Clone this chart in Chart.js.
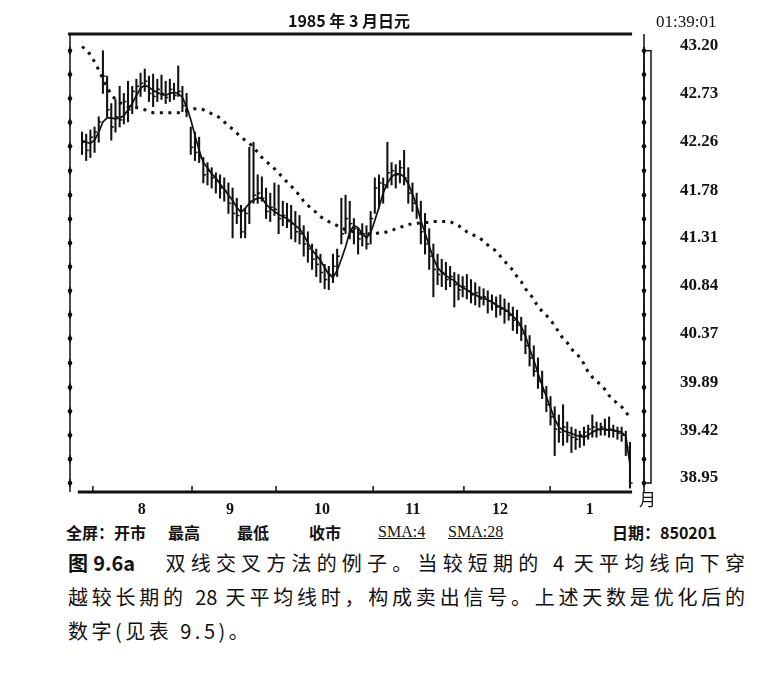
<!DOCTYPE html>
<html>
<head>
<meta charset="utf-8">
<script src="https://cdn.jsdelivr.net/npm/chart.js@4.4.1/dist/chart.umd.min.js"></script>
<style>
  body { margin: 0; background: #fff; width: 769px; height: 673px; position: relative; overflow: hidden;
         font-family: "Noto Sans CJK SC", sans-serif; color: #111; }
  #wrap { position: absolute; left: 0; top: 0; width: 769px; height: 520px; }
  .abs { position: absolute; white-space: nowrap; }
  #title { left: 0; width: 698px; top: 9px; text-align: center; font-weight: bold; font-size: 16px; line-height: 22px; }
  #clock { left: 656px; top: 12px; font-family: "Liberation Serif", serif; font-size: 17px; line-height: 20px; }
  #yue { left: 639px; top: 489px; font-size: 17px; line-height: 20px; }
  .leg { top: 522px; font-size: 16px; line-height: 20px; font-weight: bold; }
  .sma { font-family: "Liberation Serif", serif; font-weight: normal; text-decoration: underline; }
  .cap { left: 68px; width: 677px; font-size: 20px; line-height: 24px; text-align: justify; text-align-last: justify; }
</style>
</head>
<body>
<div id="wrap"><canvas id="yenChart"></canvas></div>
<div class="abs" id="title">1985 年 3 月日元</div>
<div class="abs" id="clock">01:39:01</div>
<div class="abs" id="yue">月</div>

<div class="abs leg" style="left:66px">全屏：开市</div>
<div class="abs leg" style="left:168px">最高</div>
<div class="abs leg" style="left:237px">最低</div>
<div class="abs leg" style="left:309px">收市</div>
<div class="abs leg sma" style="left:378px">SMA:4</div>
<div class="abs leg sma" style="left:448px">SMA:28</div>
<div class="abs leg" style="left:612px">日期：850201</div>

<div class="abs cap" style="top:551px"><b>图9.6a</b>　双线交叉方法的例子。当较短期的 4 天平均线向下穿</div>
<div class="abs cap" style="top:585px">越较长期的 28 天平均线时，构成卖出信号。上述天数是优化后的</div>
<div class="abs" style="left:68px; top:619px; font-size:20px; line-height:24px; letter-spacing:3.5px">数字(见表 9.5)。</div>

<script>
// daily bars, one per trading day (late Jul 1984 .. 1 Feb 1985)
const highs = [
    42.40, 42.38, 42.42, 42.45, 42.55, 43.20, 42.95, 42.68, 42.72, 42.85,
    42.78, 42.90, 42.85, 42.92, 42.98, 43.02, 42.95, 42.97, 42.92, 42.96,
    42.90, 42.92, 42.88, 43.05, 42.85, 42.78, 42.45, 42.40, 42.35, 42.15,
    42.10, 42.05, 42.00, 41.98, 41.95, 41.90, 41.85, 41.75, 41.68, 41.65,
    42.25, 42.30, 41.98, 41.96, 41.85, 41.80, 41.90, 41.88, 41.72, 41.70,
    41.68, 41.62, 41.58, 41.48, 41.42, 41.30, 41.25, 41.20, 41.10, 41.08,
    41.20, 41.25, 41.75, 41.78, 41.72, 41.55, 41.45, 41.50, 41.48, 41.62,
    41.95, 41.98, 41.95, 42.30, 42.10, 42.08, 42.12, 42.22, 42.05, 41.90,
    41.80, 41.72, 41.60, 41.45, 41.30, 41.20, 41.15, 41.12, 41.08, 41.02,
    41.00, 40.98, 41.00, 40.95, 40.92, 40.88, 40.86, 40.84, 40.80, 40.78,
    40.80, 40.76, 40.72, 40.68, 40.65, 40.58, 40.50, 40.40, 40.30, 40.18,
    40.05, 39.90, 39.80, 39.70, 39.62, 39.72, 39.55, 39.50, 39.48, 39.46,
    39.50, 39.52, 39.62, 39.55, 39.54, 39.58, 39.60, 39.52, 39.50, 39.50,
    39.46, 39.35
];
const lows = [
    42.18, 42.12, 42.15, 42.20, 42.30, 42.78, 42.55, 42.32, 42.40, 42.45,
    42.48, 42.50, 42.58, 42.65, 42.75, 42.80, 42.70, 42.65, 42.70, 42.72,
    42.68, 42.70, 42.72, 42.75, 42.60, 42.55, 42.18, 42.12, 42.10, 41.90,
    41.88, 41.85, 41.80, 41.75, 41.72, 41.60, 41.36, 41.50, 41.36, 41.36,
    41.50, 41.70, 41.70, 41.72, 41.55, 41.52, 41.58, 41.40, 41.48, 41.46,
    41.35, 41.32, 41.30, 41.18, 41.12, 41.05, 40.98, 40.92, 40.86, 40.85,
    40.92, 40.98, 41.30, 41.40, 41.35, 41.30, 41.20, 41.28, 41.25, 41.30,
    41.60, 41.65, 41.70, 41.85, 41.88, 41.85, 41.90, 41.88, 41.70, 41.62,
    41.55, 41.30, 41.20, 41.05, 40.78, 40.90, 40.88, 40.85, 40.88, 40.68,
    40.75, 40.78, 40.76, 40.72, 40.70, 40.68, 40.70, 40.62, 40.65, 40.58,
    40.60, 40.52, 40.55, 40.45, 40.42, 40.35, 40.22, 40.10, 40.00, 39.88,
    39.78, 39.65, 39.52, 39.22, 39.35, 39.32, 39.35, 39.25, 39.28, 39.30,
    39.32, 39.38, 39.40, 39.40, 39.42, 39.42, 39.40, 39.40, 39.38, 39.36,
    39.22, 38.90
];
const closes = [
    42.30, 42.22, 42.35, 42.40, 42.50, 42.95, 42.62, 42.45, 42.55, 42.52,
    42.70, 42.62, 42.80, 42.85, 42.88, 42.90, 42.78, 42.75, 42.82, 42.78,
    42.74, 42.82, 42.76, 42.80, 42.66, 42.60, 42.25, 42.20, 42.15, 41.98,
    42.02, 41.95, 41.92, 41.85, 41.82, 41.70, 41.60, 41.58, 41.42, 41.60,
    41.72, 41.78, 41.80, 41.75, 41.62, 41.66, 41.64, 41.55, 41.58, 41.52,
    41.50, 41.42, 41.40, 41.30, 41.25, 41.15, 41.10, 41.02, 40.95, 41.00,
    41.08, 41.18, 41.40, 41.55, 41.50, 41.45, 41.35, 41.40, 41.30, 41.55,
    41.85, 41.90, 41.88, 42.00, 42.02, 41.98, 42.05, 41.95, 41.80, 41.70,
    41.62, 41.42, 41.30, 41.18, 41.05, 41.00, 41.02, 40.95, 40.98, 40.90,
    40.85, 40.88, 40.84, 40.80, 40.82, 40.76, 40.78, 40.74, 40.72, 40.68,
    40.66, 40.64, 40.60, 40.55, 40.50, 40.42, 40.30, 40.18, 40.05, 39.95,
    39.85, 39.72, 39.60, 39.48, 39.45, 39.50, 39.42, 39.40, 39.38, 39.42,
    39.45, 39.48, 39.50, 39.48, 39.50, 39.47, 39.48, 39.46, 39.44, 39.42,
    39.30, 38.95
];
// moving averages as drawn on the chart
const sma4 = [
    42.32, 42.30, 42.29, 42.32, 42.40, 42.50, 42.54, 42.54, 42.53, 42.54,
    42.56, 42.62, 42.68, 42.76, 42.83, 42.86, 42.84, 42.81, 42.79, 42.77,
    42.76, 42.78, 42.79, 42.78, 42.74, 42.65, 42.52, 42.37, 42.22, 42.10,
    42.05, 41.99, 41.95, 41.89, 41.84, 41.78, 41.73, 41.66, 41.61, 41.65,
    41.70, 41.73, 41.75, 41.75, 41.69, 41.65, 41.62, 41.59, 41.57, 41.55,
    41.52, 41.48, 41.45, 41.39, 41.31, 41.24, 41.19, 41.14, 41.07, 41.00,
    40.97, 41.04, 41.15, 41.27, 41.42, 41.48, 41.46, 41.40, 41.36, 41.41,
    41.53, 41.66, 41.80, 41.90, 41.96, 41.99, 41.99, 41.96, 41.89, 41.79,
    41.68, 41.53, 41.41, 41.28, 41.16, 41.07, 41.02, 40.99, 40.96, 40.94,
    40.90, 40.87, 40.85, 40.82, 40.80, 40.78, 40.77, 40.75, 40.73, 40.70,
    40.68, 40.66, 40.63, 40.59, 40.55, 40.49, 40.40, 40.27, 40.16, 40.03,
    39.91, 39.80, 39.69, 39.58, 39.50, 39.47, 39.45, 39.44, 39.42, 39.41,
    39.40, 39.42, 39.45, 39.47, 39.48, 39.48, 39.47, 39.47, 39.46, 39.45,
    39.41, 39.13
];
const sma28 = [
    43.24, 43.21, 43.16, 43.09, 43.01, 42.92, 42.84, 42.77, 42.72, 42.69,
    42.67, 42.65, 42.65, 42.64, 42.63, 42.62, 42.60, 42.59, 42.59, 42.59,
    42.59, 42.59, 42.59, 42.59, 42.60, 42.61, 42.62, 42.63, 42.63, 42.62,
    42.60, 42.58, 42.56, 42.54, 42.50, 42.46, 42.43, 42.39, 42.35, 42.32,
    42.29, 42.25, 42.20, 42.15, 42.11, 42.08, 42.04, 42.00, 41.95, 41.91,
    41.87, 41.82, 41.78, 41.72, 41.68, 41.64, 41.61, 41.57, 41.54, 41.52,
    41.50, 41.48, 41.46, 41.44, 41.43, 41.42, 41.41, 41.40, 41.40, 41.40,
    41.40, 41.41, 41.41, 41.42, 41.43, 41.45, 41.46, 41.48, 41.49, 41.50,
    41.50, 41.51, 41.51, 41.51, 41.52, 41.52, 41.52, 41.52, 41.52, 41.50,
    41.48, 41.45, 41.42, 41.40, 41.38, 41.36, 41.33, 41.29, 41.26, 41.23,
    41.18, 41.13, 41.09, 41.04, 40.98, 40.93, 40.86, 40.81, 40.76, 40.68,
    40.64, 40.60, 40.55, 40.50, 40.43, 40.37, 40.33, 40.27, 40.22, 40.19,
    40.12, 40.04, 39.99, 39.95, 39.92, 39.87, 39.81, 39.77, 39.73, 39.70,
    39.65, 39.59
];

// axis ticks
const yTicks = [38.95, 39.42, 39.89, 40.37, 40.84, 41.31, 41.78, 42.26, 42.73, 43.20];
const monthLabels = ['8', '9', '10', '11', '12', '1'];
const monthCentres = [14.3, 35.4, 57.4, 79.1, 99.9, 121.4];   // bar index under each month label
const monthStarts = [2.6, 26.3, 46.4, 69.6, 91.3, 111.9];     // bar index of each month boundary

// major ticks plus the halfway marks between them
const allTicks = [];
yTicks.forEach((v, i) => {
    allTicks.push(v);
    if (i < yTicks.length - 1) allTicks.push((v + yTicks[i + 1]) / 2);
});

const INK = '#111';

// old terminal style frame: rules, axis lines and dotted tick marks
const framePlugin = {
    id: 'frame',
    afterDatasetsDraw(chart) {
        const {ctx, chartArea: a, scales: {x, y}} = chart;
        ctx.save();
        ctx.strokeStyle = INK;
        ctx.fillStyle = INK;

        ctx.lineWidth = 3;
        ctx.beginPath();
        ctx.moveTo(a.left - 2, a.top);
        ctx.lineTo(x.getPixelForValue(131.5), a.top);
        ctx.stroke();

        ctx.beginPath();
        ctx.moveTo(x.getPixelForValue(-1), a.bottom);
        ctx.lineTo(x.getPixelForValue(131.5), a.bottom);
        ctx.stroke();

        ctx.lineWidth = 1.5;
        monthStarts.forEach(m => {
            const px = x.getPixelForValue(m);
            ctx.beginPath();
            ctx.moveTo(px, a.bottom);
            ctx.lineTo(px, a.bottom - 6);
            ctx.stroke();
        });

        ctx.beginPath();
        ctx.moveTo(a.left, a.top);
        ctx.lineTo(a.left, a.bottom);
        ctx.moveTo(a.right, a.top);
        ctx.lineTo(a.right, a.bottom);
        ctx.stroke();

        const yTop = y.getPixelForValue(yTicks[yTicks.length - 1]);
        const yBot = y.getPixelForValue(yTicks[0]);
        ctx.strokeRect(a.right, yTop, 7, yBot - yTop);

        allTicks.forEach(v => {
            const py = y.getPixelForValue(v);
            [a.left, a.right].forEach(px => {
                ctx.beginPath();
                ctx.arc(px, py, 2.3, 0, Math.PI * 2);
                ctx.fill();
                ctx.fillRect(px - 0.8, py - 4, 1.6, 8);
            });
        });
        ctx.restore();
    }
};

const ctx = document.getElementById('yenChart').getContext('2d');
new Chart(ctx, {
    type: 'line',
    data: {
        datasets: [
            {
                type: 'bar',
                data: highs.map((h, i) => ({x: i, y: [lows[i], h]})),
                backgroundColor: INK,
                barThickness: 1.4,
                grouped: false
            },
            {
                type: 'scatter',
                data: closes.map((c, i) => ({x: i + 0.3, y: c})),
                pointStyle: 'line',
                radius: 1.4,
                borderColor: INK,
                borderWidth: 1.5
            },
            {
                type: 'line',
                data: sma4.map((v, i) => ({x: i, y: v})),
                borderColor: INK,
                borderWidth: 1.7,
                pointRadius: 0,
                tension: 0
            },
            {
                type: 'line',
                data: sma28.map((v, i) => ({x: i, y: v})),
                borderColor: INK,
                borderWidth: 3,
                borderDash: [3, 5.5],
                pointRadius: 0,
                tension: 0
            }
        ]
    },
    options: {
        responsive: true,
        maintainAspectRatio: false,
        animation: false,
        layout: {padding: {left: 70, top: 34, right: 0, bottom: 0}},
        plugins: {legend: {display: false}, tooltip: {enabled: false}},
        scales: {
            x: {
                type: 'linear',
                offset: false,
                min: -2.87,
                max: 134.35,
                grid: {display: false},
                border: {display: false},
                afterBuildTicks: s => { s.ticks = monthCentres.map(v => ({value: v})); },
                afterFit: s => { s.height = 28; },
                ticks: {
                    autoSkip: false,
                    maxRotation: 0,
                    padding: 0,
                    color: INK,
                    font: {family: '"Liberation Serif", serif', size: 16, weight: 'bold'},
                    callback: (v, idx) => monthLabels[idx]
                }
            },
            y: {
                position: 'right',
                min: 38.862,
                max: 43.364,
                // invisible tick marks give the gap between the axis and its labels
                grid: {display: true, drawOnChartArea: false, drawTicks: true, tickLength: 36, tickColor: 'rgba(0,0,0,0)'},
                border: {display: false},
                afterBuildTicks: s => { s.ticks = yTicks.map(v => ({value: v})); },
                afterFit: s => { s.width = 125; },
                ticks: {
                    padding: 0,
                    labelOffset: -5,
                    color: INK,
                    font: {family: '"Liberation Serif", serif', size: 17, weight: 'bold'},
                    callback: v => v.toFixed(2)
                }
            }
        }
    },
    plugins: [framePlugin]
});
</script>
</body>
</html>
